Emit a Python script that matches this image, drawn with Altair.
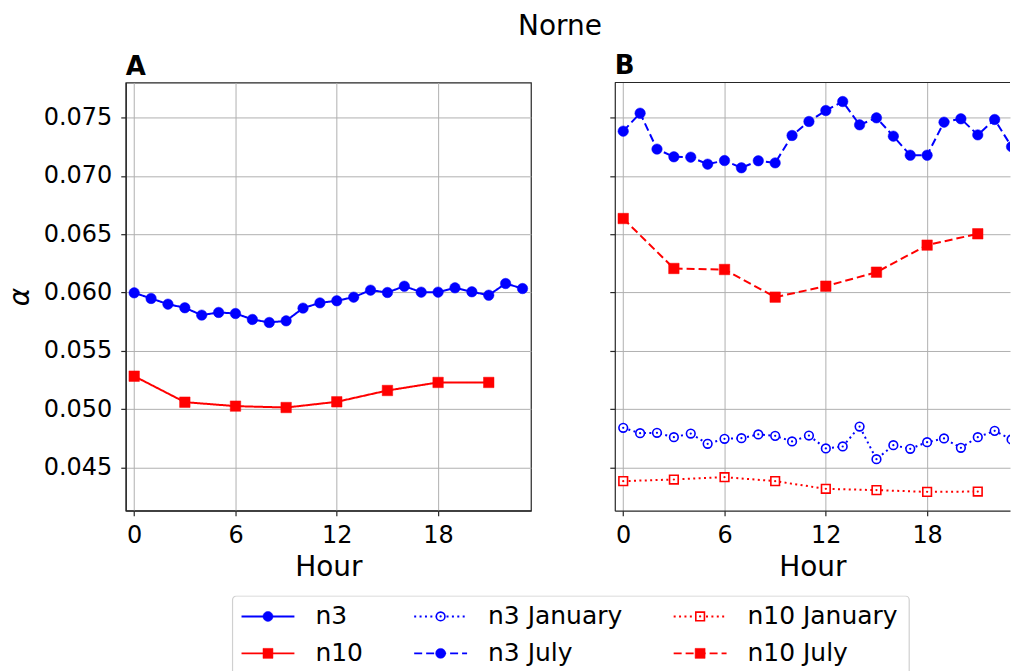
import altair as alt
import pandas as pd

# ---------------- data ----------------
hours_n3 = list(range(24))
hours_n10 = [0, 3, 6, 9, 12, 15, 18, 21]

a_n3 = [0.05997, 0.05949, 0.05900, 0.05869, 0.05806, 0.05829, 0.05820, 0.05769,
        0.05743, 0.05757, 0.05866, 0.05911, 0.05929, 0.05960, 0.06020, 0.06000,
        0.06054, 0.06003, 0.06003, 0.06040, 0.06006, 0.05977, 0.06077, 0.06034]
a_n10 = [0.05283, 0.05060, 0.05026, 0.05014, 0.05063, 0.05160, 0.05229, 0.05229]

b_n3_jul = [0.07383, 0.07537, 0.07229, 0.07163, 0.07160, 0.07100, 0.07131, 0.07069,
            0.07129, 0.07111, 0.07346, 0.07466, 0.07560, 0.07637, 0.07437, 0.07497,
            0.07340, 0.07177, 0.07177, 0.07460, 0.07489, 0.07351, 0.07483, 0.07250]
b_n10_jul = [0.06634, 0.06206, 0.06197, 0.05960, 0.06054, 0.06174, 0.06406, 0.06503]
b_n3_jan = [0.04840, 0.04794, 0.04797, 0.04760, 0.04791, 0.04703, 0.04746, 0.04751,
            0.04783, 0.04771, 0.04723, 0.04774, 0.04663, 0.04680, 0.04851, 0.04571,
            0.04691, 0.04660, 0.04717, 0.04749, 0.04669, 0.04760, 0.04814, 0.04740]
b_n10_jan = [0.04383, 0.04397, 0.04417, 0.04383, 0.04317, 0.04306, 0.04291, 0.04294]

x_ticks = [0, 6, 12, 18]
y_ticks = [0.045, 0.050, 0.055, 0.060, 0.065, 0.070, 0.075]

legend_labels = ["n3", "n10", "n3 January", "n3 July", "n10 January", "n10 July"]

# ---------------- style ----------------
FONT = "DejaVu Sans"
BLUE = "#0000ff"
RED = "#ff0000"
SPINE = "#262626"
GRID = "#b0b0b0"
SOLID = [1, 0]
DASH = [8, 4]
DOT = [2, 3.4]

PW_A, PW_B, PH = 406, 396, 429
XDOM_A = [-0.5, 23.5]
XDOM_B = [-0.5, -0.5 + PW_B / PW_A * 24]
YDOM = [0.0413, 0.0780]


def series(hours, vals, xdom, color, dash, shape, filled, show_axis):
    df = pd.DataFrame({"hour": hours, "alpha": vals})
    if show_axis:
        yax = alt.Axis(values=y_ticks, format=".3f", title="α", titleFontStyle="italic",
                       titleFontWeight="normal", titleFontSize=28, titlePadding=9,
                       labelFontSize=24, labelPadding=9)
    else:
        yax = alt.Axis(values=y_ticks, labels=False, title=None)
    xax = alt.Axis(values=x_ticks, title="Hour", titleFontSize=28, titleFontWeight="normal",
                   labelFontSize=24, labelPadding=8, titlePadding=6, labelAngle=0)
    base = alt.Chart(df).encode(
        x=alt.X("hour:Q", scale=alt.Scale(domain=xdom, nice=False, zero=False), axis=xax),
        y=alt.Y("alpha:Q", scale=alt.Scale(domain=YDOM, nice=False, zero=False), axis=yax),
    )
    line = base.mark_line(color=color, strokeWidth=2, strokeDash=dash, clip=True)
    if filled:
        pts = base.mark_point(shape=shape, fill=color, stroke=color, fillOpacity=1,
                              strokeWidth=0.5, size=110, opacity=1, clip=True)
        return [line, pts]
    pts = base.mark_point(shape=shape, fill="white", stroke=color, fillOpacity=1,
                          strokeWidth=1.6, size=75, opacity=1, clip=True)
    dot = base.mark_point(shape="circle", fill=color, stroke=color, fillOpacity=1,
                          strokeWidth=0, size=5, opacity=1, clip=True)
    return [line, pts, dot]


def panel_title(t):
    return alt.TitleParams(t, anchor="start", frame="group", fontSize=26,
                           fontWeight="bold", offset=3)


# Panel A
layers_a = (series(hours_n3, a_n3, XDOM_A, BLUE, SOLID, "circle", True, True)
            + series(hours_n10, a_n10, XDOM_A, RED, SOLID, "square", True, True))
panel_a = alt.layer(*layers_a).properties(width=PW_A, height=PH, title=panel_title("A"))

# Panel B
top_spine = alt.Chart(pd.DataFrame({"k": [0]})).mark_rule(color=SPINE, strokeWidth=1.2).encode(
    x=alt.value(0), x2=alt.value(PW_B), y=alt.value(0))
layers_b = (series(hours_n3, b_n3_jul, XDOM_B, BLUE, DASH, "circle", True, False)
            + series(hours_n10, b_n10_jul, XDOM_B, RED, DASH, "square", True, False)
            + series(hours_n3, b_n3_jan, XDOM_B, BLUE, DOT, "circle", False, False)
            + series(hours_n10, b_n10_jan, XDOM_B, RED, DOT, "square", False, False))
panel_b = alt.layer(*layers_b, top_spine).properties(
    width=PW_B, height=PH, title=panel_title("B"),
    view=alt.ViewBackground(strokeOpacity=0),
)

# ---------------- legend (drawn manually) ----------------
LEG_X0 = 127    # page x of legend chart origin (aligned with panel A plot)
LEG_Y0 = 594    # page y of legend chart origin
LW, LH = 912 - LEG_X0 + 2, 77
col_x = [243, 416, 676]
row_y = [615, 652]
entries = [
    ("n3", 0, 0, BLUE, SOLID, "circle", True),
    ("n10", 0, 1, RED, SOLID, "square", True),
    ("n3 January", 1, 0, BLUE, DOT, "circle", False),
    ("n3 July", 1, 1, BLUE, DASH, "circle", True),
    ("n10 January", 2, 0, RED, DOT, "square", False),
    ("n10 July", 2, 1, RED, DASH, "square", True),
]
lx = alt.Scale(domain=[0, LW], nice=False, zero=False)
ly = alt.Scale(domain=[0, LH], nice=False, zero=False, reverse=True)

box_df = pd.DataFrame({"x": [234 - LEG_X0], "x2": [912 - LEG_X0], "y": [0.5], "y2": [LH + 20]})
leg_layers = [alt.Chart(box_df).mark_rect(fill="white", stroke="#d0d0d0", strokeWidth=1.2,
                                          cornerRadius=4, clip=True).encode(
    x=alt.X("x:Q", scale=lx, axis=None), x2="x2:Q",
    y=alt.Y("y:Q", scale=ly, axis=None), y2="y2:Q")]
for label, c, r, color, dash, shape, filled in entries:
    x0 = col_x[c] - LEG_X0
    yy = row_y[r] - LEG_Y0
    d = pd.DataFrame({"x0": [x0], "x1": [x0 + 53], "xm": [x0 + 26.5], "xt": [x0 + 74],
                      "y": [yy], "label": [label]})
    b = alt.Chart(d)
    leg_layers.append(b.mark_rule(color=color, strokeWidth=2, strokeDash=dash).encode(
        x=alt.X("x0:Q", scale=lx, axis=None), x2="x1:Q",
        y=alt.Y("y:Q", scale=ly, axis=None)))
    if filled:
        leg_layers.append(b.mark_point(shape=shape, fill=color, stroke=color, fillOpacity=1,
                                       strokeWidth=0.5, size=100, opacity=1).encode(
            x=alt.X("xm:Q", scale=lx, axis=None), y=alt.Y("y:Q", scale=ly, axis=None)))
    else:
        leg_layers.append(b.mark_point(shape=shape, fill="white", stroke=color, fillOpacity=1,
                                       strokeWidth=1.6, size=75, opacity=1).encode(
            x=alt.X("xm:Q", scale=lx, axis=None), y=alt.Y("y:Q", scale=ly, axis=None)))
        leg_layers.append(b.mark_point(shape="circle", fill=color, stroke=color, fillOpacity=1,
                                       strokeWidth=0, size=5, opacity=1).encode(
            x=alt.X("xm:Q", scale=lx, axis=None), y=alt.Y("y:Q", scale=ly, axis=None)))
    leg_layers.append(b.mark_text(align="left", baseline="middle", fontSize=25, font=FONT,
                                  color="black").encode(
        x=alt.X("xt:Q", scale=lx, axis=None), y=alt.Y("y:Q", scale=ly, axis=None),
        text="label:N"))

legend = alt.layer(*leg_layers).properties(
    width=LW, height=LH, view=alt.ViewBackground(strokeOpacity=0))

top = alt.hconcat(panel_a, panel_b, spacing=77)
chart = alt.vconcat(top, legend, spacing=13).properties(
    title=alt.TitleParams("Norne", fontSize=28, fontWeight="normal", anchor="middle",
                          dx=52, offset=12),
    padding={"left": 5, "top": 12, "right": 0, "bottom": 0},
).configure(font=FONT).configure_view(
    stroke=SPINE, strokeWidth=1.2
).configure_axis(
    grid=True, gridColor=GRID, gridWidth=1.0, domain=True, domainColor=SPINE,
    domainWidth=1.2, tickColor=SPINE, tickSize=5, tickWidth=1.2,
    labelColor="black", titleColor="black", labelFont=FONT, titleFont=FONT,
).configure_title(font=FONT, color="black")

chart.save("out.html", embed_options={"renderer": "svg", "actions": False})
